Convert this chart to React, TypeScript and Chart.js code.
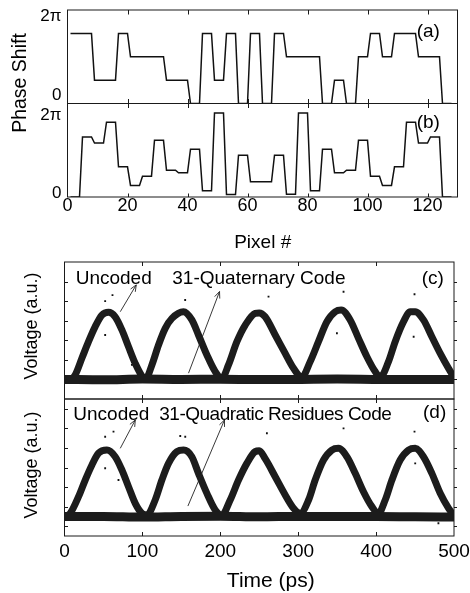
import React, { useEffect, useRef } from 'react';
import { Chart, registerables } from 'chart.js';

Chart.register(...registerables);

const FONT = '"Liberation Sans", Arial, Helvetica, sans-serif';
const INK = '#111111';
const BAND = '#1c1c1c';

// ---------- Panels (a), (b): phase shift vs pixel ----------
// (a) 31-quaternary code: phase level of each 4-pixel chip, in units of π/2
const quaternaryLevels = [3, 3, 1, 1, 3, 2, 2, 2, 1, 1, 0, 3, 1, 3, 0, 3, 0, 3, 2, 2, 2, 0, 1, 0, 2, 3, 2, 3, 3, 2, 2, 0];
// (b) 31-quadratic residues code: phase of each 4-pixel chip, radians
const quadraticPhases = [0, 4.03, 3.63, 5.03, 2.03, 0.78, 1.4, 3.81, 1.8, 1.63, 3.21, 0.42, 5.64, 0.16, 2.81, 1.02, 1.02, 2.81, 0.18, 5.64, 0.42, 3.21, 1.63, 1.8, 3.81, 1.4, 0.78, 2.03, 5.03, 3.63, 4.03, 0];
const pixelsPerChip = 4;
const pixelTicks = [0, 20, 40, 60, 80, 100, 120];
const pixelMax = 130;
const phaseMax = 2 * Math.PI;
const phaseTickLabels = ['0', '2π'];
const phaseLabelValuesA = [0.57, 5.83];
const phaseLabelValuesB = [0.27, 5.51];

// ---------- Panels (c), (d): eye diagrams, voltage (a.u.) vs time (ps) ----------
const timeTicks = [0, 100, 200, 300, 400, 500];
const cVoltTicks = [1, 2, 3, 4, 5, 6];
const dVoltTicks = [0, 1, 2, 3, 4, 5, 6];

const cBaseT = [0, 50, 100, 150, 200, 250, 300, 350, 400, 450, 500];
const cBaseV = [1.0, 0.98, 1.02, 1.0, 1.01, 0.99, 1.0, 1.02, 1.0, 0.99, 1.0];
const cPulseT = [0, 8, 13.7, 22.3, 30.8, 39.4, 48, 56.5, 65.1, 73.7, 82.2, 90.8, 100.1, 104.4,
  112.2, 120.7, 129.3, 137.9, 152.8, 163.5, 172, 182.8, 193.5, 202,
  210.5, 221.3, 232, 244.8, 250, 257.6, 270.5, 283.3, 294, 304.7,
  315.4, 326, 336.8, 347.5, 355.2, 366.7, 377.4, 388.2, 398.8, 405.3,
  415.9, 424.5, 435.2, 443.8, 450.2, 460.8, 471.6, 482.3, 492.9, 499.4];
const cPulseV = [1.0, 1.02, 1.23, 2.08, 2.93, 3.7, 4.29, 4.43, 4.2, 3.53, 2.67, 1.82, 1.14, 1.05,
  1.74, 2.76, 3.61, 4.12, 4.46, 4.04, 3.27, 2.25, 1.4, 1.06,
  1.74, 2.93, 3.78, 4.38, 4.4, 4.2, 3.27, 2.33, 1.57, 1.12,
  1.91, 2.93, 3.95, 4.46, 4.55, 4.04, 3.1, 2.16, 1.4, 1.12,
  1.91, 2.93, 3.95, 4.46, 4.46, 4.04, 3.18, 2.33, 1.57, 1.14];
const cOutT = [61.6, 52.2, 52.2, 86.5, 154.9, 261.9, 358.2, 349.7, 449.3, 448.2];
const cOutV = [5.31, 5.0, 3.27, 1.74, 5.06, 5.23, 5.48, 3.36, 5.35, 3.18];

const dBaseT = [0, 50, 100, 150, 200, 250, 300, 350, 400, 450, 500];
const dBaseV = [0.49, 0.5, 0.47, 0.5, 0.51, 0.48, 0.5, 0.49, 0.5, 0.48, 0.47];
const dPulseT = [0, 7.3, 18, 26.6, 35.2, 43.7, 54.4, 65.1, 73.7, 82.2, 90.8, 99.4, 105.8,
  116.4, 125, 133.5, 144.3, 152.8, 163.5, 172, 182.8, 193.5, 202,
  212.7, 223.4, 234.1, 244.8, 250, 257.6, 270.5, 283.3, 294, 302.6,
  313.3, 321.8, 332.5, 343.2, 351.7, 362.5, 373.2, 383.8, 394.6, 403,
  411.7, 420.3, 430.9, 441.6, 450.2, 460.8, 471.6, 482.3, 492.9, 499.4];
const dPulseV = [0.49, 0.66, 1.51, 2.36, 3.13, 3.73, 3.89, 3.55, 2.87, 2.02, 1.17, 0.66, 0.58,
  1.34, 2.36, 3.21, 3.81, 3.89, 3.55, 2.7, 1.68, 0.83, 0.57,
  1.34, 2.36, 3.21, 3.81, 3.85, 3.45, 2.53, 1.6, 0.92, 0.66,
  1.34, 2.36, 3.38, 3.89, 3.98, 3.55, 2.7, 1.76, 1.0, 0.66,
  1.34, 2.36, 3.38, 3.89, 3.98, 3.55, 2.7, 1.68, 0.92, 0.57];
const dOutT = [62.9, 52.2, 52.2, 69.3, 86.5, 155, 148.6, 259.8, 358.2, 449.3, 450.2, 480];
const dOutV = [4.83, 4.57, 2.96, 2.36, 1.25, 4.57, 4.61, 4.75, 5.0, 4.83, 3.21, 0.15];

// arrows: [fromTime, fromVolt, toTime, toVolt]
const cArrows = [[71.6, 4.46, 92.1, 5.83], [159.2, 1.32, 199.0, 5.49]];
const dArrows = [[71.6, 3.98, 90.9, 5.43], [158.4, 1.03, 205.4, 5.43]];

// ---------- helpers ----------
function chipPoints(values: number[], unit: number) {
  const pts: { x: number; y: number }[] = [];
  values.forEach((v, k) => {
    pts.push({ x: k * pixelsPerChip + 1, y: v * unit });
    pts.push({ x: k * pixelsPerChip + pixelsPerChip, y: v * unit });
  });
  return pts;
}
function zip(xs: number[], ys: number[]) {
  return xs.map((x, i) => ({ x, y: ys[i] }));
}
function noScalePadding(s: any) {
  s.paddingTop = 0;
  s.paddingBottom = 0;
  s.paddingLeft = 0;
  s.paddingRight = 0;
}

const framePlugin = {
  id: 'frame',
  afterDatasetsDraw(chart: any, _args: any, opts: any) {
    const { ctx, chartArea } = chart;
    const { left, right, top, bottom } = chartArea;
    const xs = chart.scales.x;
    const ys = chart.scales.y;
    ctx.save();
    ctx.strokeStyle = '#1a1a1a';
    ctx.lineWidth = 1;
    ctx.strokeRect(left, top, right - left, bottom - top);
    ctx.beginPath();
    for (const v of opts.xTicks || []) {
      const px = Math.round(xs.getPixelForValue(v)) + 0.5;
      if (px <= left + 1 || px >= right - 1) continue;
      ctx.moveTo(px, top);
      ctx.lineTo(px, top + opts.topLen);
      ctx.moveTo(px, bottom);
      ctx.lineTo(px, bottom - opts.bottomLen);
    }
    for (const v of opts.yTicks || []) {
      const py = Math.round(ys.getPixelForValue(v)) + 0.5;
      if (py <= top + 1 || py >= bottom - 1) continue;
      ctx.moveTo(left, py);
      ctx.lineTo(left + opts.leftLen, py);
      ctx.moveTo(right, py);
      ctx.lineTo(right + opts.rightLen, py);
    }
    ctx.stroke();
    ctx.lineWidth = 0.9;
    ctx.strokeStyle = '#222';
    for (const a of opts.arrows || []) {
      const x1 = xs.getPixelForValue(a[0]);
      const y1 = ys.getPixelForValue(a[1]);
      const x2 = xs.getPixelForValue(a[2]);
      const y2 = ys.getPixelForValue(a[3]);
      const ang = Math.atan2(y2 - y1, x2 - x1);
      const h = 7;
      const spread = 0.4;
      ctx.beginPath();
      ctx.moveTo(x1, y1);
      ctx.lineTo(x2, y2);
      ctx.moveTo(x2 - h * Math.cos(ang - spread), y2 - h * Math.sin(ang - spread));
      ctx.lineTo(x2, y2);
      ctx.lineTo(x2 - h * Math.cos(ang + spread), y2 - h * Math.sin(ang + spread));
      ctx.stroke();
    }
    ctx.restore();
  },
};

function phaseConfig(points: any[], labelValues: number[], showX: boolean): any {
  return {
    type: 'line',
    data: {
      datasets: [{ data: points, borderColor: INK, borderWidth: 1.5, pointRadius: 0, tension: 0, fill: false }],
    },
    options: {
      responsive: false,
      animation: false,
      devicePixelRatio: 1,
      layout: {
        autoPadding: false,
        padding: showX
          ? { left: 0, right: 12.5, top: 3.5, bottom: 0 }
          : { left: 0, right: 12.5, top: 10, bottom: 0.5 },
      },
      plugins: {
        legend: { display: false },
        tooltip: { enabled: false },
        frame: { xTicks: pixelTicks, topLen: 4.5, bottomLen: showX ? 3.5 : 4.5 },
      },
      scales: {
        x: {
          type: 'linear',
          min: 0,
          max: pixelMax,
          display: showX,
          afterBuildTicks: (s: any) => { s.ticks = pixelTicks.map((v) => ({ value: v })); },
          afterFit: (s: any) => { s.height = showX ? 63 : 0; noScalePadding(s); },
          grid: { display: false, drawTicks: false },
          border: { display: false },
          ticks: { font: { size: 18, family: FONT }, color: '#000', padding: -2, maxRotation: 0, autoSkip: false, callback: (v: any) => String(v) },
        },
        y: {
          type: 'linear',
          min: 0,
          max: phaseMax,
          afterBuildTicks: (s: any) => { s.ticks = labelValues.map((v) => ({ value: v })); },
          afterFit: (s: any) => { s.width = 67.5; noScalePadding(s); },
          grid: { display: false, drawTicks: false },
          border: { display: false },
          ticks: { font: { size: 17, family: FONT }, color: '#000', padding: 6, autoSkip: false, callback: (_v: any, i: number) => phaseTickLabels[i] },
        },
      },
    },
    plugins: [framePlugin],
  };
}

function eyeConfig(base: any[], pulse: any[], outliers: any[], yMin: number, yMax: number, yTicks: number[], arrows: number[][], showX: boolean): any {
  return {
    type: 'scatter',
    data: {
      datasets: [
        { data: base, showLine: true, borderColor: BAND, borderWidth: 9, pointRadius: 0, cubicInterpolationMode: 'monotone' },
        { data: pulse, showLine: true, borderColor: BAND, borderWidth: 7, pointRadius: 0, cubicInterpolationMode: 'monotone' },
        { data: outliers, showLine: false, pointStyle: 'rect', pointRadius: 1.3, backgroundColor: INK, borderWidth: 0 },
      ],
    },
    options: {
      responsive: false,
      animation: false,
      devicePixelRatio: 1,
      layout: {
        autoPadding: false,
        padding: showX
          ? { left: 64.5, right: 16, top: 3, bottom: 0 }
          : { left: 64.5, right: 16, top: 4, bottom: 1 },
      },
      plugins: {
        legend: { display: false },
        tooltip: { enabled: false },
        frame: { xTicks: timeTicks, yTicks, topLen: 4, bottomLen: 4, leftLen: 3.5, rightLen: 3, arrows },
      },
      scales: {
        x: {
          type: 'linear',
          min: 0,
          max: 500,
          display: showX,
          afterBuildTicks: (s: any) => { s.ticks = timeTicks.map((v) => ({ value: v })); },
          afterFit: (s: any) => { s.height = showX ? 57 : 0; noScalePadding(s); },
          grid: { display: false, drawTicks: false },
          border: { display: false },
          ticks: { font: { size: 19, family: FONT }, color: '#000', padding: 4, maxRotation: 0, autoSkip: false, callback: (v: any) => String(v) },
        },
        y: { type: 'linear', min: yMin, max: yMax, display: false, afterFit: (s: any) => { noScalePadding(s); } },
      },
    },
    plugins: [framePlugin],
  };
}

function ChartCanvas({ top, height, build }: { top: number; height: number; build: () => any }) {
  const ref = useRef<HTMLCanvasElement>(null);
  useEffect(() => {
    const chart = new Chart(ref.current as HTMLCanvasElement, build());
    return () => chart.destroy();
  }, []);
  return (
    <canvas
      ref={ref}
      width={470}
      height={height}
      style={{ position: 'absolute', left: 0, top, width: 470, height, display: 'block' }}
    />
  );
}

type Label = { text: string; x: number; y: number; size: number; anchor: 'left' | 'center' | 'rot'; spacing?: number };
const labels: Label[] = [
  { text: 'Phase Shift', x: 20, y: 83, size: 19.5, anchor: 'rot' },
  { text: '(a)', x: 416.7, y: 30, size: 19, anchor: 'left' },
  { text: '(b)', x: 416.7, y: 121.7, size: 19, anchor: 'left' },
  { text: 'Pixel #', x: 262.7, y: 241, size: 19, anchor: 'center' },
  { text: 'Voltage (a.u.)', x: 31, y: 325.5, size: 18, anchor: 'rot' },
  { text: 'Voltage (a.u.)', x: 31, y: 465, size: 18, anchor: 'rot' },
  { text: 'Uncoded', x: 75.7, y: 277.7, size: 19, anchor: 'left' },
  { text: '31-Quaternary Code', x: 172.3, y: 277.7, size: 19, anchor: 'left' },
  { text: '(c)', x: 421.7, y: 277, size: 19, anchor: 'left' },
  { text: 'Uncoded', x: 73.3, y: 413, size: 19, anchor: 'left' },
  { text: '31-Quadratic Residues Code', x: 159.3, y: 413, size: 19, anchor: 'left', spacing: -0.5 },
  { text: '(d)', x: 423, y: 411, size: 19, anchor: 'left' },
  { text: 'Time (ps)', x: 270.8, y: 579, size: 21, anchor: 'center' },
];

function TextLabel({ l }: { l: Label }) {
  const base: React.CSSProperties = {
    position: 'absolute',
    fontFamily: FONT,
    fontSize: l.size,
    lineHeight: 1,
    whiteSpace: 'nowrap',
    color: '#000',
    letterSpacing: l.spacing ? `${l.spacing}px` : undefined,
  };
  if (l.anchor === 'rot') {
    return <div style={{ ...base, left: l.x, top: l.y, transform: 'translate(-50%, -50%) rotate(-90deg)' }}>{l.text}</div>;
  }
  if (l.anchor === 'center') {
    return <div style={{ ...base, left: l.x, top: l.y - 0.49 * l.size, transform: 'translateX(-50%)' }}>{l.text}</div>;
  }
  return <div style={{ ...base, left: l.x, top: l.y - 0.49 * l.size }}>{l.text}</div>;
}

export default function App() {
  return (
    <div style={{ position: 'absolute', left: 0, top: 0, width: 470, height: 593, background: '#fff', overflow: 'hidden' }}>
      <ChartCanvas top={0} height={104} build={() => phaseConfig(chipPoints(quaternaryLevels, Math.PI / 2), phaseLabelValuesA, false)} />
      <ChartCanvas top={100} height={160} build={() => phaseConfig(chipPoints(quadraticPhases, 1), phaseLabelValuesB, true)} />
      <ChartCanvas
        top={258}
        height={142}
        build={() => eyeConfig(zip(cBaseT, cBaseV), zip(cPulseT, cPulseV), zip(cOutT, cOutV), 0, 7, cVoltTicks, cArrows, false)}
      />
      <ChartCanvas
        top={396}
        height={197}
        build={() => eyeConfig(zip(dBaseT, dBaseV), zip(dPulseT, dPulseV), zip(dOutT, dOutV), -0.5, 6.5, dVoltTicks, dArrows, true)}
      />
      {labels.map((l, i) => (
        <TextLabel key={i} l={l} />
      ))}
    </div>
  );
}
